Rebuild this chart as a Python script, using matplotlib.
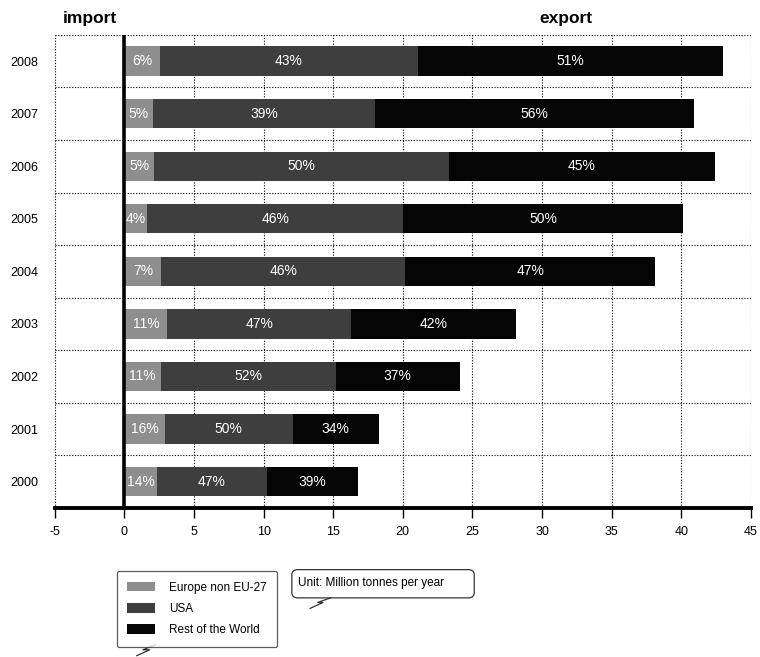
import numpy as np
import matplotlib
matplotlib.use("Agg")
import matplotlib.pyplot as plt
from matplotlib.lines import Line2D
from matplotlib.patches import FancyBboxPatch

plt.rcParams['font.family'] = ['Liberation Sans', 'DejaVu Sans']

years = ['2000', '2001', '2002', '2003', '2004', '2005', '2006', '2007', '2008']
totals = np.array([16.8, 18.3, 24.1, 28.1, 38.1, 40.1, 42.4, 40.9, 43.0])
europe_pct = np.array([14, 16, 11, 11, 7, 4, 5, 5, 6])
usa_pct = np.array([47, 50, 52, 47, 46, 46, 50, 39, 43])
rest_pct = np.array([39, 34, 37, 42, 47, 50, 45, 56, 51])
series = ['Europe non EU-27', 'USA', 'Rest of the World']
colors = ['#8e8e8e', '#3e3e3e', '#050505']
xticks = [-5, 0, 5, 10, 15, 20, 25, 30, 35, 40, 45]

fig = plt.figure(figsize=(7.6, 6.57), dpi=100)
ax = fig.add_axes([0.072, 0.227, 0.916, 0.72])

y = np.arange(len(years))
left = np.zeros(len(years))
handles = []
for pct, col, name in zip([europe_pct, usa_pct, rest_pct], colors, series):
    w = totals * pct / 100
    b = ax.barh(y, w, left=left, height=0.56, color=col, label=name, zorder=3)
    handles.append(b)
    for yi, li, wi, p in zip(y, left, w, pct):
        ax.text(li + wi / 2, yi, f'{p}%', color='white', ha='center', va='center',
                fontsize=10, zorder=4)
    left = left + w

ax.set_xlim(-5, 45)
ax.set_ylim(-0.5, 8.5)
ax.set_xticks(xticks)
ax.set_xticklabels([str(t) for t in xticks], fontsize=9)
ax.set_yticks(y)
ax.set_yticklabels(years, fontsize=9)
ax.set_yticks(np.arange(-0.5, 9, 1), minor=True)
ax.tick_params(axis='y', which='both', length=0, pad=12)
ax.tick_params(axis='x', length=7, width=1, direction='out', pad=6)

ax.grid(True, axis='x', which='major', color='black', linestyle=(0, (1, 1.5)), linewidth=0.8, zorder=1)
ax.grid(True, axis='y', which='minor', color='black', linestyle=(0, (1, 1.5)), linewidth=0.8, zorder=1)
for s in ['top', 'left', 'right']:
    ax.spines[s].set_visible(False)
ax.spines['bottom'].set_linewidth(2.8)
ax.axvline(0, color='black', linewidth=2.6, zorder=5)

fig.text(0.118, 0.972, 'import', fontsize=12.5, fontweight='bold', ha='center', va='center')
fig.text(0.745, 0.972, 'export', fontsize=12.5, fontweight='bold', ha='center', va='center')

leg = fig.legend(handles=handles, labels=series, loc='upper left',
                 bbox_to_anchor=(0.146, 0.140), fontsize=8.5, frameon=True,
                 fancybox=True, edgecolor='#333333', handlelength=2.3,
                 handleheight=0.9, labelspacing=0.8, borderpad=0.9, handletextpad=1.2)
leg.get_frame().set_linewidth(0.9)

# unit box
fig.add_artist(FancyBboxPatch((0.384, 0.090), 0.240, 0.043, boxstyle='round,pad=0,rounding_size=0.008',
                              transform=fig.transFigure, facecolor='white', edgecolor='#333333',
                              linewidth=0.9))
fig.text(0.392, 0.113, 'Unit: Million tonnes per year', fontsize=8.5, ha='left', va='center')

fig.add_artist(Line2D([0.205, 0.188, 0.197, 0.180], [0.019, 0.011, 0.011, 0.002],
                      transform=fig.transFigure, color='#333333', linewidth=0.9))
fig.add_artist(Line2D([0.435, 0.418, 0.425, 0.408], [0.090, 0.083, 0.083, 0.074],
                      transform=fig.transFigure, color='#333333', linewidth=0.9))

fig.savefig('out.png', dpi=100)
